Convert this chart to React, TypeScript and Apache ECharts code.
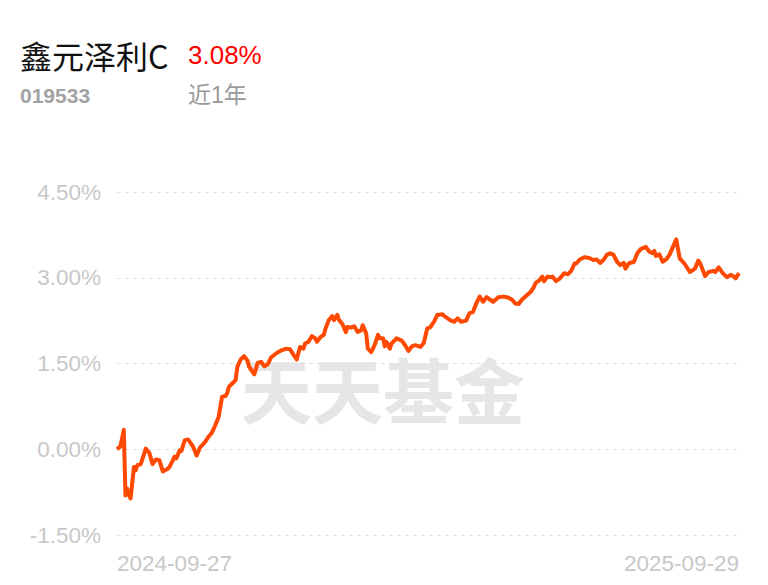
import React, { useEffect, useRef } from "react";
import * as echarts from "echarts";

const fundName = "鑫元泽利C";
const fundCode = "019533";
const periodReturn = "3.08%";
const periodLabel = "近1年";
const watermark = "天天基金";
const xTickLabels = ["2024-09-27", "2025-09-29"];
const totalDays = 367;
const yTicks = [-1.5, 0, 1.5, 3, 4.5];

// day offsets from 2024-09-27
const dayOffsets = [
  0, 2, 4, 5, 6, 7, 8, 10, 11, 12, 14, 16, 17, 19, 21, 23, 25, 27, 30, 31,
  34, 35, 37, 38, 40, 42, 45, 47, 49, 52, 54, 56, 58, 60, 62, 64, 65, 66, 68, 70,
  71, 73, 75, 77, 78, 81, 83, 85, 87, 89, 91, 94, 97, 100, 102, 104, 106, 108, 110, 111,
  113, 115, 117, 118, 120, 122, 123, 125, 127, 128, 130, 131, 133, 135, 136, 138, 140, 142, 144, 145,
  147, 148, 150, 152, 154, 155, 157, 158, 159, 161, 162, 165, 168, 170, 172, 174, 176, 179, 181, 183,
  185, 187, 189, 192, 194, 197, 199, 201, 203, 206, 208, 210, 212, 214, 216, 218, 220, 222, 225, 228,
  230, 233, 235, 237, 239, 242, 244, 246, 247, 249, 251, 252, 254, 256, 257, 259, 261, 264, 266, 268,
  270, 271, 273, 276, 279, 281, 283, 285, 287, 289, 291, 293, 295, 297, 299, 300, 302, 305, 307, 309,
  312, 314, 316, 317, 318, 320, 322, 324, 326, 328, 330, 332, 335, 338, 341, 343, 344, 347, 349, 352,
  353, 355, 358, 360, 362, 364, 365, 367,
];

// cumulative return, %
const returns = [
  0.0, 0.05, 0.34, -0.81, -0.69, -0.79, -0.86, -0.31, -0.37, -0.28, -0.26, -0.08, 0.01, -0.06, -0.26, -0.18, -0.19, -0.39, -0.34, -0.31,
  -0.13, -0.16, -0.02, -0.03, 0.16, 0.17, 0.04, -0.11, 0.03, 0.13, 0.22, 0.29, 0.42, 0.57, 0.92, 0.93, 0.98, 1.09, 1.15, 1.21,
  1.44, 1.57, 1.63, 1.55, 1.44, 1.31, 1.51, 1.53, 1.45, 1.49, 1.61, 1.68, 1.73, 1.76, 1.75, 1.66, 1.57, 1.79, 1.76, 1.85,
  1.88, 1.98, 1.94, 1.88, 1.96, 2.0, 2.11, 2.26, 2.33, 2.26, 2.35, 2.26, 2.19, 2.05, 2.14, 2.13, 2.15, 2.05, 2.08, 2.17,
  2.03, 1.76, 1.7, 1.82, 2.0, 1.94, 1.94, 1.8, 1.88, 1.76, 1.85, 1.94, 1.9, 1.82, 1.72, 1.8, 1.82, 1.79, 1.86, 2.11,
  2.14, 2.23, 2.35, 2.36, 2.31, 2.25, 2.23, 2.29, 2.23, 2.25, 2.38, 2.4, 2.55, 2.67, 2.58, 2.66, 2.62, 2.58, 2.66, 2.67,
  2.66, 2.62, 2.55, 2.54, 2.62, 2.7, 2.75, 2.84, 2.91, 2.95, 3.02, 2.94, 3.02, 3.01, 3.02, 2.94, 2.98, 3.08, 3.06, 3.12,
  3.25, 3.25, 3.32, 3.36, 3.34, 3.31, 3.32, 3.26, 3.31, 3.4, 3.43, 3.4, 3.28, 3.22, 3.26, 3.16, 3.25, 3.28, 3.43, 3.5,
  3.54, 3.46, 3.43, 3.47, 3.38, 3.41, 3.28, 3.32, 3.4, 3.54, 3.67, 3.34, 3.24, 3.1, 3.16, 3.3, 3.26, 3.03, 3.1, 3.12,
  3.1, 3.18, 3.06, 3.01, 3.05, 3.02, 2.99, 3.08,
];

export default function App() {
  const ref = useRef<HTMLDivElement>(null);

  useEffect(() => {
    document.body.style.margin = "0";
    if (!ref.current) return;
    const chart = echarts.init(ref.current, null, { renderer: "svg" });
    const seriesData = dayOffsets.map((d, i) => [d, returns[i]]);
    chart.setOption({
      animation: false,
      backgroundColor: "#ffffff",
      grid: { left: 117, right: 29, top: 192, bottom: 50 },
      graphic: [
        {
          type: "text",
          left: 20,
          top: 39,
          style: {
            text: fundName,
            fill: "#111111",
            font: '32px "Noto Sans CJK SC", sans-serif',
          },
        },
        {
          type: "text",
          left: 188,
          top: 42,
          style: {
            text: periodReturn,
            fill: "#ff0000",
            font: '26px "Liberation Sans", sans-serif',
          },
        },
        {
          type: "text",
          left: 20,
          top: 85,
          style: {
            text: fundCode,
            fill: "#a3a3a3",
            font: 'bold 21px "Liberation Sans", sans-serif',
          },
        },
        {
          type: "text",
          left: 188,
          top: 83,
          style: {
            text: periodLabel,
            fill: "#9a9a9a",
            font: '23px "Liberation Sans", "Noto Sans CJK SC", sans-serif',
          },
        },
        {
          type: "text",
          left: 241,
          top: 351,
          z: -10,
          style: {
            text: watermark,
            fill: "#e6e6e6",
            font: 'bold 71px "Noto Sans CJK SC", sans-serif',
          },
        },
      ],
      xAxis: {
        type: "value",
        min: 0,
        max: totalDays,
        interval: totalDays,
        axisLine: { show: false },
        axisTick: { show: false },
        splitLine: { show: false },
        axisLabel: {
          show: true,
          showMinLabel: true,
          showMaxLabel: true,
          alignMinLabel: "left",
          alignMaxLabel: "right",
          margin: 17,
          color: "#c8c8c8",
          fontSize: 22.5,
          fontFamily: '"Liberation Sans", sans-serif',
          formatter: (v: number) => (v === 0 ? xTickLabels[0] : xTickLabels[1]),
        },
      },
      yAxis: {
        type: "value",
        min: yTicks[0],
        max: yTicks[yTicks.length - 1],
        interval: 1.5,
        axisLine: { show: false },
        axisTick: { show: false },
        axisLabel: {
          margin: 16,
          color: "#c8c8c8",
          fontSize: 22.5,
          fontFamily: '"Liberation Sans", sans-serif',
          formatter: (v: number) => v.toFixed(2) + "%",
        },
        splitLine: {
          show: true,
          lineStyle: { color: "#e2e2e2", type: [4, 4], width: 1 },
        },
      },
      series: [
        {
          type: "line",
          data: seriesData,
          showSymbol: false,
          symbol: "none",
          smooth: false,
          lineStyle: { color: "#ff4800", width: 4, join: "round" },
          z: 5,
        },
      ],
    });
    return () => chart.dispose();
  }, []);

  return <div ref={ref} style={{ width: 768, height: 585 }} />;
}
